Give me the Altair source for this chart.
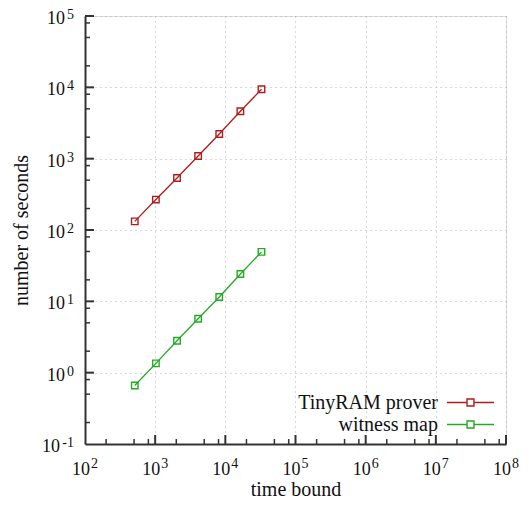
import altair as alt
import pandas as pd

time_bound = [512, 1024, 2048, 4096, 8192, 16384, 32768]
prover_secs = [132, 267, 535, 1090, 2220, 4620, 9400]
witness_secs = [0.66, 1.35, 2.8, 5.7, 11.5, 24.2, 49.4]
series_names = ["TinyRAM prover", "witness map"]
series_colors = ["#b01c1c", "#22ab22"]

x_exps = [2, 3, 4, 5, 6, 7, 8]
y_exps = [-1, 0, 1, 2, 3, 4, 5]
minor_mult = [2, 5, 8]

x_major = [10.0 ** e for e in x_exps]
y_major = [10.0 ** e for e in y_exps]
x_minor = [m * v for v in x_major[:-1] for m in minor_mult]
y_minor = [m * v for v in y_major[:-1] for m in minor_mult]

rows = []
for t, p in zip(time_bound, prover_secs):
    rows.append({"t": t, "s": p, "series": series_names[0]})
for t, w in zip(time_bound, witness_secs):
    rows.append({"t": t, "s": w, "series": series_names[1]})
df = pd.DataFrame(rows)

W, H = 421, 428
SERIF = "Liberation Serif"
TXT = "#111111"

xscale = alt.Scale(type="log", domain=[1e2, 1e8], nice=False)
yscale = alt.Scale(type="log", domain=[1e-1, 1e5], nice=False)

xaxis = alt.Axis(values=x_major, labels=False, title="time bound",
                 grid=True, gridDash=[1, 4], gridColor="#b0b0b0", gridWidth=1,
                 ticks=False, domainColor="#333333", domainWidth=2,
                 titleFont=SERIF, titleFontSize=20, titleFontWeight="normal", titleColor=TXT,
                 titleBaseline="alphabetic", titleY=51, titleX=W / 2)
yaxis = alt.Axis(values=y_major, labels=False, title="number of seconds",
                 grid=True, gridDash=[1, 4], gridColor="#b0b0b0", gridWidth=1,
                 ticks=False, domainColor="#333333", domainWidth=2,
                 titleFont=SERIF, titleFontSize=20, titleFontWeight="normal", titleColor=TXT,
                 titleBaseline="alphabetic", titleX=-58, titleY=H / 2, titleAngle=-90)

sym_path = "M1.95,0H3.86M4.52,0H6.43M3.86,-0.333H4.52V0.333H3.86Z"

color = alt.Color("series:N", scale=alt.Scale(domain=series_names, range=series_colors),
                  legend=alt.Legend(title=None, orient="none", legendX=330, legendY=375,
                                    symbolType=sym_path, symbolSize=441, symbolStrokeWidth=1.4,
                                    symbolFillColor="transparent",
                                    labelFont=SERIF, labelFontSize=20, labelColor=TXT,
                                    labelAlign="right", labelOffset=0, symbolOffset=0,
                                    rowPadding=0, padding=0, labelLimit=300))

base = alt.Chart(df).encode(
    x=alt.X("t:Q", scale=xscale, axis=xaxis),
    y=alt.Y("s:Q", scale=yscale, axis=yaxis),
    color=color,
)
lines = base.mark_line(strokeWidth=1.3)
points = base.mark_point(shape="square", size=42, filled=False, strokeWidth=1.4, opacity=1).encode(
    color=alt.Color("series:N", scale=alt.Scale(domain=series_names, range=series_colors), legend=None)
)

tk = "#333333"
xmaj = alt.Chart(pd.DataFrame({"v": x_major[1:]})).mark_rule(color=tk, strokeWidth=2).encode(
    x=alt.X("v:Q", scale=xscale), y=alt.value(H), y2=alt.value(H - 9))
xmin = alt.Chart(pd.DataFrame({"v": x_minor})).mark_rule(color=tk, strokeWidth=1.5).encode(
    x=alt.X("v:Q", scale=xscale), y=alt.value(H), y2=alt.value(H - 5))
ymaj = alt.Chart(pd.DataFrame({"v": y_major[1:]})).mark_rule(color=tk, strokeWidth=2).encode(
    y=alt.Y("v:Q", scale=yscale), x=alt.value(0), x2=alt.value(9))
ymin = alt.Chart(pd.DataFrame({"v": y_minor})).mark_rule(color=tk, strokeWidth=1.5).encode(
    y=alt.Y("v:Q", scale=yscale), x=alt.value(0), x2=alt.value(5))

# tick labels "10" with raised exponent
xlab_df = pd.DataFrame({"v": x_major, "e": [str(e) for e in x_exps]})
ylab_df = pd.DataFrame({"v": y_major, "e": [str(e) for e in y_exps]})
ylab_pos = ylab_df[ylab_df["v"] >= 1]
ylab_neg = ylab_df[ylab_df["v"] < 1]

xbase = alt.Chart(xlab_df).mark_text(text="10", align="right", baseline="alphabetic", dx=5,
                                     font=SERIF, fontSize=18, color=TXT).encode(
    x=alt.X("v:Q", scale=xscale), y=alt.value(H + 31))
xexp = alt.Chart(xlab_df).mark_text(align="left", baseline="alphabetic", dx=6,
                                    font=SERIF, fontSize=14, color=TXT).encode(
    x=alt.X("v:Q", scale=xscale), y=alt.value(H + 24), text="e:N")
ybase = alt.Chart(ylab_pos).mark_text(text="10", align="right", baseline="alphabetic", dy=8,
                                      font=SERIF, fontSize=18, color=TXT).encode(
    y=alt.Y("v:Q", scale=yscale), x=alt.value(-20))
ybase_neg = alt.Chart(ylab_neg).mark_text(text="10", align="right", baseline="alphabetic", dy=8,
                                          font=SERIF, fontSize=18, color=TXT).encode(
    y=alt.Y("v:Q", scale=yscale), x=alt.value(-25))
yexp = alt.Chart(ylab_df).mark_text(align="right", baseline="alphabetic", dy=3,
                                    font=SERIF, fontSize=14, color=TXT).encode(
    y=alt.Y("v:Q", scale=yscale), x=alt.value(-11), text="e:N")

chart = alt.layer(lines, points, xmaj, xmin, ymaj, ymin,
                  xbase, xexp, ybase, ybase_neg, yexp).properties(
    width=W, height=H,
    autosize=alt.AutoSizeParams(type="none"),
    padding={"left": 77, "top": 8, "right": 17, "bottom": 56},
).configure_view(stroke=None).configure(background="white")

chart.save("out.html", embed_options={"renderer": "svg", "actions": False})
